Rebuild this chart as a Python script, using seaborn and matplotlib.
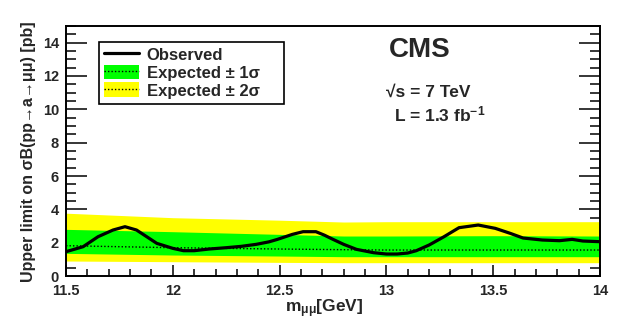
import numpy as np
import pandas as pd
import matplotlib
matplotlib.use("Agg")
import matplotlib.pyplot as plt
import seaborn as sns
from matplotlib.patches import Patch
from matplotlib.lines import Line2D
from matplotlib.ticker import MultipleLocator

# ---- data ----
mass_obs = [11.50, 11.58, 11.65, 11.72, 11.776, 11.83, 11.88, 11.925, 12.00, 12.05, 12.10,
            12.17, 12.25, 12.32, 12.39, 12.45, 12.49, 12.56, 12.61, 12.67, 12.71, 12.75,
            12.80, 12.86, 12.94, 13.00, 13.05, 13.10, 13.14, 13.20, 13.27, 13.34, 13.43,
            13.51, 13.58, 13.64, 13.73, 13.81, 13.87, 13.92, 14.00]
observed = [1.46, 1.76, 2.36, 2.76, 2.96, 2.76, 2.34, 1.96, 1.66, 1.52, 1.52,
            1.62, 1.70, 1.78, 1.90, 2.05, 2.20, 2.50, 2.66, 2.66, 2.45, 2.20,
            1.90, 1.60, 1.40, 1.32, 1.32, 1.38, 1.52, 1.86, 2.36, 2.90, 3.06,
            2.86, 2.56, 2.28, 2.16, 2.12, 2.20, 2.10, 2.06]

mass_exp = [11.5, 12.0, 12.5, 12.8, 13.0, 13.5, 14.0]
expected = [1.82, 1.70, 1.62, 1.58, 1.56, 1.56, 1.56]
sig1_up = [2.80, 2.66, 2.50, 2.40, 2.40, 2.42, 2.40]
sig1_dn = [1.36, 1.26, 1.20, 1.16, 1.16, 1.16, 1.16]
sig2_up = [3.77, 3.50, 3.35, 3.24, 3.26, 3.26, 3.26]
sig2_dn = [0.90, 0.86, 0.82, 0.80, 0.80, 0.80, 0.80]

x_ticks = [11.5, 12, 12.5, 13, 13.5, 14]
x_tick_labels = ["11.5", "12", "12.5", "13", "13.5", "14"]

df_obs = pd.DataFrame({"m": mass_obs, "limit": observed})
df_exp = pd.DataFrame({"m": mass_exp, "limit": expected})

sns.set_style("ticks")
plt.rcParams["font.family"] = ["Liberation Sans", "DejaVu Sans"]
plt.rcParams["font.weight"] = "bold"
plt.rcParams["mathtext.fontset"] = "custom"
plt.rcParams["mathtext.rm"] = "Liberation Sans:bold"
plt.rcParams["mathtext.bf"] = "Liberation Sans:bold"
plt.rcParams["mathtext.it"] = "Liberation Sans:bold"
plt.rcParams["mathtext.default"] = "bf"

fig = plt.figure(figsize=(6.23, 3.29), dpi=100)
ax = fig.add_axes([0.106, 0.161, 0.857, 0.760])

ax.fill_between(mass_exp, sig2_dn, sig2_up, color="#FFFF00", lw=0)
ax.fill_between(mass_exp, sig1_dn, sig1_up, color="#00FF00", lw=0)
sns.lineplot(data=df_exp, x="m", y="limit", ax=ax, color="black", lw=1.0,
             linestyle=(0, (1, 1.5)))
sns.lineplot(data=df_obs, x="m", y="limit", ax=ax, color="black", lw=2.3)

ax.set_xlim(11.5, 14.0)
ax.set_ylim(0, 15)
ax.xaxis.set_minor_locator(MultipleLocator(0.1))
ax.yaxis.set_major_locator(MultipleLocator(2))
ax.yaxis.set_minor_locator(MultipleLocator(0.5))
ax.set_xticks(x_ticks)
ax.set_xticklabels(x_tick_labels)
ax.tick_params(axis="both", which="both", direction="in", right=True, top=False,
               labelsize=10.5, width=1.1, color="black")
ax.tick_params(axis="y", which="major", length=15, pad=5)
ax.tick_params(axis="y", which="minor", length=7)
ax.tick_params(axis="x", which="major", length=8, pad=6)
ax.tick_params(axis="x", which="minor", length=5)
for lab in ax.get_xticklabels() + ax.get_yticklabels():
    lab.set_fontweight("bold")
for s in ax.spines.values():
    s.set_linewidth(1.4)
    s.set_color("black")

ax.set_xlabel("")
ax.set_ylabel("")
fig.text(0.457, 0.052, r"m$_{\mathbf{\mu\mu}}$[GeV]", fontsize=12.5, fontweight="bold",
         ha="left", va="baseline")
fig.text(0.045, 0.935, "Upper limit on σB(pp→a→μμ) [pb]", rotation=90, fontsize=11.5,
         fontweight="bold", ha="center", va="top")

# CMS labels
ax.text(0.605, 0.905, "CMS", transform=ax.transAxes, fontsize=20, fontweight="bold",
        ha="left", va="center")
ax.text(0.60, 0.735, "√s = 7 TeV", transform=ax.transAxes, fontsize=12.5,
        fontweight="bold", ha="left", va="center")
ax.text(0.615, 0.645, r"L = 1.3 fb$^{\mathbf{-1}}$", transform=ax.transAxes, fontsize=12.5,
        fontweight="bold", ha="left", va="center")

h_obs = Line2D([], [], color="black", lw=2.3)
h1 = (Patch(facecolor="#00FF00", edgecolor="none"),
      Line2D([], [], color="black", lw=1.0, linestyle=(0, (1, 1.5))))
h2 = (Patch(facecolor="#FFFF00", edgecolor="none"),
      Line2D([], [], color="black", lw=1.0, linestyle=(0, (1, 1.5))))
leg = ax.legend([h_obs, h1, h2], ["Observed", "Expected ± 1σ", "Expected ± 2σ"],
                loc="upper left", bbox_to_anchor=(0.062, 0.937, 0.346, 0.0),
                mode="expand", fancybox=False, frameon=True, framealpha=1,
                edgecolor="black", prop={"weight": "bold", "size": 12},
                handlelength=2.1, handleheight=1.0, labelspacing=0.1,
                borderpad=0.3, handletextpad=0.45, borderaxespad=0)
leg.get_frame().set_linewidth(1.2)

fig.savefig("out.png", dpi=100, facecolor="white")
